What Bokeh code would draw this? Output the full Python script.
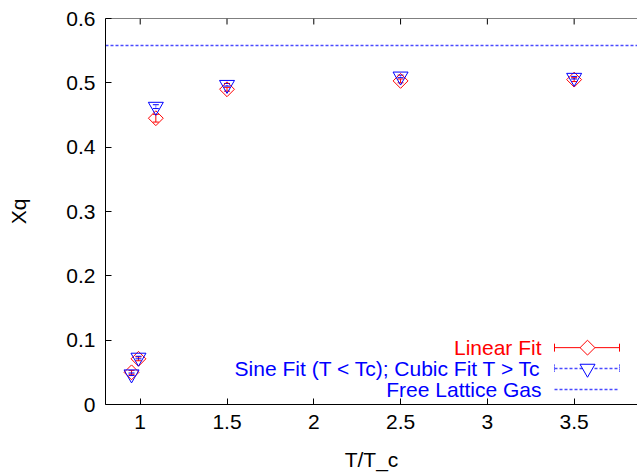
import numpy as np
from bokeh.plotting import figure
from bokeh.models import FixedTicker, Range1d, Whisker, ColumnDataSource, TeeHead
from bokeh.core.properties import value
from bokeh.embed import file_html
from bokeh.resources import INLINE

# ---- data ----
t_over_tc = [0.95, 0.99, 1.09, 1.5, 2.5, 3.5]
linear_fit = [0.050, 0.071, 0.445, 0.490, 0.503, 0.505]
linear_err = [0.003, 0.003, 0.006, 0.003, 0.003, 0.003]
sine_cubic_fit = [0.047, 0.073, 0.463, 0.497, 0.510, 0.508]
sine_cubic_err = [0.002, 0.002, 0.003, 0.002, 0.002, 0.002]
free_lattice_gas = 0.558

x_ticks = [1, 1.5, 2, 2.5, 3, 3.5]
x_tick_labels = ["1", "1.5", "2", "2.5", "3", "3.5"]
y_ticks = [0, 0.1, 0.2, 0.3, 0.4, 0.5, 0.6]
y_tick_labels = ["0", "0.1", "0.2", "0.3", "0.4", "0.5", "0.6"]

legend_labels = ["Linear Fit", "Sine Fit (T < Tc); Cubic Fit T > Tc", "Free Lattice Gas"]

RED = "#ff0000"
BLUE = "#0000ff"
DOT_BLUE = "#4a4aff"
FONT = "Liberation Sans"
FS = "21px"

X0, X1 = 0.8, 3.865
Y0, Y1 = 0.0, 0.6
W, H = 637, 473
LB, TB, BB = 105, 18, 68

p = figure(width=W, height=H, output_backend="svg", toolbar_location=None,
           x_range=Range1d(X0, X1), y_range=Range1d(Y0, Y1),
           min_border_left=LB, min_border_right=0, min_border_top=TB, min_border_bottom=BB,
           x_axis_label="T/T_c", y_axis_label="Xq")
p.outline_line_color = None
p.grid.visible = False
p.background_fill_color = "white"
p.border_fill_color = "white"

for ax in (p.xaxis[0], p.yaxis[0]):
    ax.major_tick_in = 6
    ax.major_tick_out = 0
    ax.minor_tick_line_color = None
    ax.axis_line_color = "black"
    ax.axis_line_width = 1
    ax.major_label_text_font = FONT
    ax.major_label_text_font_size = FS
    ax.major_label_text_color = "black"
    ax.axis_label_text_font = FONT
    ax.axis_label_text_font_size = FS
    ax.axis_label_text_font_style = "normal"
    ax.axis_label_text_color = "black"

p.xaxis[0].ticker = FixedTicker(ticks=x_ticks)
p.xaxis[0].major_label_overrides = dict(zip(x_ticks, x_tick_labels))
p.xaxis[0].major_label_standoff = 10
p.xaxis[0].axis_label_standoff = 16
p.yaxis[0].ticker = FixedTicker(ticks=y_ticks)
p.yaxis[0].major_label_overrides = dict(zip(y_ticks, y_tick_labels))
p.yaxis[0].major_label_standoff = 10
p.yaxis[0].axis_label_standoff = 33

xs_per_px = (X1 - X0) / (W - LB)
ys_per_px = (Y1 - Y0) / (H - TB - BB)
def dx(px):
    return X0 + (px - LB) * xs_per_px
def dy(py):
    return Y1 - (py - TB) * ys_per_px

# top border with inward (mirrored) ticks
p.line(x=[X0, X1], y=[Y1, Y1], line_color="black", line_width=1)
p.segment(x0=x_ticks, y0=[Y1] * len(x_ticks), x1=x_ticks,
          y1=[Y1 - 6 * ys_per_px] * len(x_ticks), line_color="black", line_width=1)

# free lattice gas
p.line(x=[X0, X1], y=[free_lattice_gas, free_lattice_gas], line_color=DOT_BLUE,
       line_dash="3 2", line_width=1.5)

# error bars
src_r = ColumnDataSource(dict(x=t_over_tc, y=linear_fit,
                              lo=[v - e for v, e in zip(linear_fit, linear_err)],
                              hi=[v + e for v, e in zip(linear_fit, linear_err)]))
src_b = ColumnDataSource(dict(x=t_over_tc, y=sine_cubic_fit,
                              lo=[v - e for v, e in zip(sine_cubic_fit, sine_cubic_err)],
                              hi=[v + e for v, e in zip(sine_cubic_fit, sine_cubic_err)]))
wr = Whisker(source=src_r, base="x", lower="lo", upper="hi", line_color=RED, line_width=1,
             upper_head=TeeHead(size=6, line_color=RED), lower_head=TeeHead(size=6, line_color=RED))
wb = Whisker(source=src_b, base="x", lower="lo", upper="hi", line_color=BLUE, line_width=1,
             line_dash="1 1",
             upper_head=TeeHead(size=6, line_color=BLUE), lower_head=TeeHead(size=6, line_color=BLUE))
p.add_layout(wr)
p.add_layout(wb)

p.scatter(x="x", y="y", source=src_r, marker="square", angle=np.pi / 4, size=10.5,
          fill_color=None, line_color=RED, line_width=1)
p.scatter(x="x", y="y", source=src_b, marker="inverted_triangle", size=15,
          fill_color=None, line_color=BLUE, line_width=1)

# ---- legend (gnuplot style: text right-aligned, sample on right) ----
rows = [348, 369, 390]
colors = [RED, BLUE, BLUE]
for lab, py, c in zip(legend_labels, rows, colors):
    p.text(x=[dx(541)], y=[dy(py)], text=[lab], text_font=value(FONT), text_font_size=FS,
           text_color=c, text_align="right", text_baseline="middle")

# linear fit sample
p.line(x=[dx(554), dx(619)], y=[dy(rows[0])] * 2, line_color=RED, line_width=1)
p.segment(x0=[dx(554), dx(619)], y0=[dy(rows[0] - 4)] * 2, x1=[dx(554), dx(619)],
          y1=[dy(rows[0] + 4)] * 2, line_color=RED)
p.scatter(x=[dx(587)], y=[dy(rows[0])], marker="square", angle=np.pi / 4, size=10.5,
          fill_color="white", line_color=RED)
# sine/cubic sample
p.line(x=[dx(554), dx(619)], y=[dy(rows[1])] * 2, line_color=DOT_BLUE, line_width=1.5,
       line_dash="3 2")
p.segment(x0=[dx(554), dx(619)], y0=[dy(rows[1] - 4)] * 2, x1=[dx(554), dx(619)],
          y1=[dy(rows[1] + 4)] * 2, line_color=BLUE, line_dash="1 1")
p.scatter(x=[dx(587)], y=[dy(rows[1])], marker="inverted_triangle", size=15,
          fill_color="white", line_color=BLUE)
# free lattice gas sample
p.line(x=[dx(554), dx(619)], y=[dy(rows[2])] * 2, line_color=DOT_BLUE, line_width=1.5,
       line_dash="3 2")

open("out.html", "w").write(file_html(p, INLINE))
